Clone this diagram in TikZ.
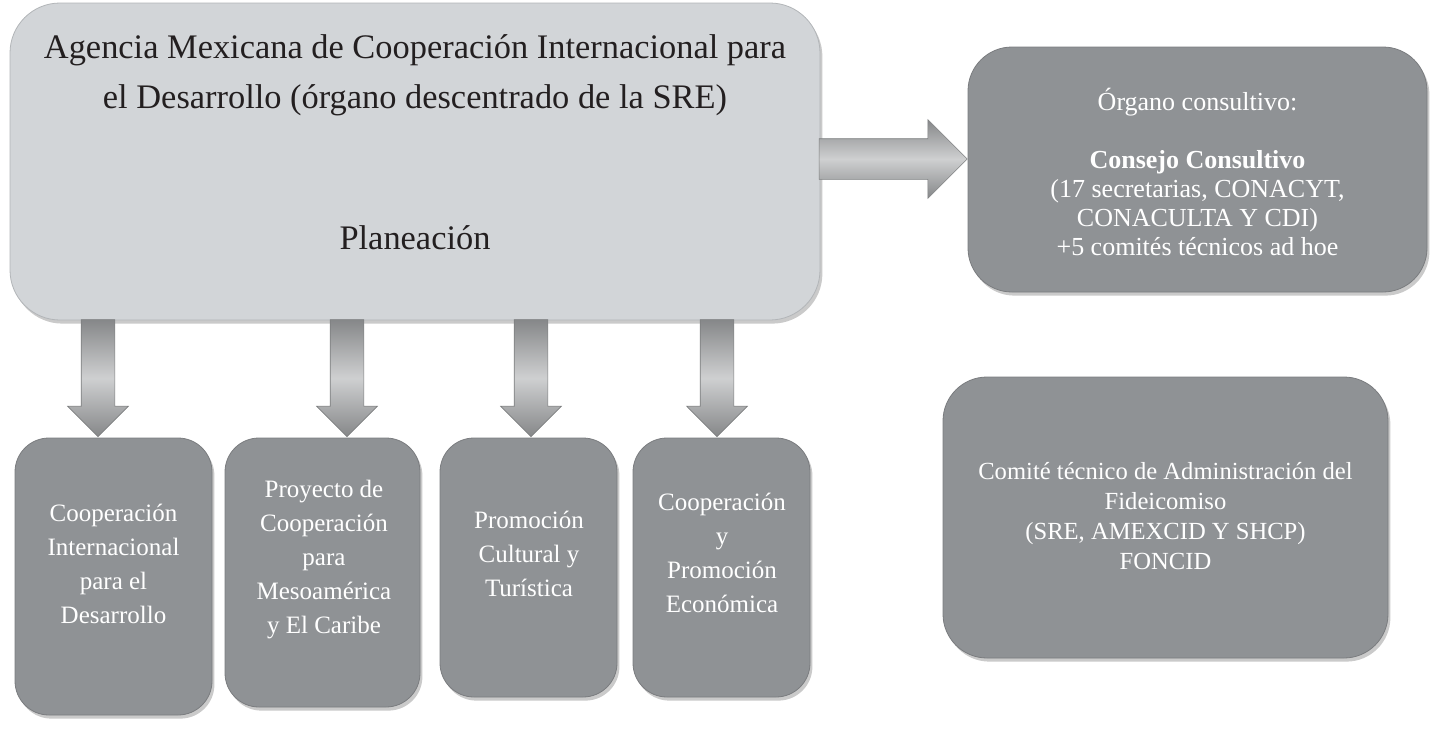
\documentclass[tikz,border=0pt]{standalone}
\usepackage{fontspec}
\setmainfont{Liberation Serif}
\usetikzlibrary{shapes.arrows,shadows}
\definecolor{lightfill}{HTML}{D2D5D8}
\definecolor{darkfill}{HTML}{8F9295}
\definecolor{arrowc}{HTML}{A7A9AB}
\definecolor{txt}{HTML}{231F20}
\tikzset{
  softshadow/.style={drop shadow={shadow xshift=1.2pt, shadow yshift=-1.8pt, opacity=0.35, fill=black!60}},
  mainbox/.style={rounded corners=25pt, fill=lightfill, draw=lightfill!85!black, line width=0.4pt, softshadow, inner sep=0pt},
  sidebox/.style={rounded corners=22pt, fill=darkfill, draw=darkfill!85!black, line width=0.4pt, softshadow, inner sep=0pt},
  unitbox/.style={rounded corners=17pt, fill=darkfill, draw=darkfill!85!black, line width=0.4pt, softshadow, inner sep=0pt},
  whitetext/.style={text=white, align=center, inner sep=0pt},
  blockarrow/.style={single arrow, single arrow tip angle=90, inner xsep=0pt, draw=arrowc!75!black, line width=0.3pt,
    top color=arrowc!80!black, bottom color=arrowc!80!black, middle color=arrowc!55!white},
  downarrow/.style={blockarrow, rotate=-90, minimum height=58.5pt, inner ysep=8.25pt, single arrow head extend=6.75pt, anchor=tip},
}
\begin{document}
\begin{tikzpicture}[x=0.5pt, y=-0.5pt]
\useasboundingbox (0,0) rectangle (1436,729);

% main box
\node[mainbox, minimum width=405pt, minimum height=158.5pt] (main) at (415,161.5) {};
\node[text=txt, align=center, inner sep=0pt, font=\fontsize{17.2}{25}\selectfont] (title) at (415,75)
  {Agencia Mexicana de Cooperación Internacional para\\el Desarrollo (órgano descentrado de la SRE)};
\node[text=txt, inner sep=0pt, font=\fontsize{17.2}{25}\selectfont] (plan) at (415,238) {Planeación};

% right boxes
\node[sidebox, minimum width=229.5pt, minimum height=122.5pt] (consejo) at (1197.5,169.5) {};
\node[whitetext, font=\fontsize{13}{14.5}\selectfont] (consejotxt) at (1197.5,171.5)
  {Órgano consultivo:\\[14.5pt]\textbf{Consejo Consultivo}\\(17 secretarias, CONACYT,\\CONACULTA Y CDI)\\+5 comités técnicos ad hoe};

\node[sidebox, minimum width=222.5pt, minimum height=140.5pt] (comite) at (1165.5,517.5) {};
\node[whitetext, font=\fontsize{12.3}{15}\selectfont] (comitetxt) at (1165.5,516.5)
  {Comité técnico de Administración del\\Fideicomiso\\(SRE, AMEXCID Y SHCP)\\FONCID};

% bottom boxes
\node[unitbox, minimum width=98.5pt, minimum height=138.5pt] (u1) at (113.5,576.5) {};
\node[whitetext, font=\fontsize{12.5}{17}\selectfont] (u1txt) at (113.5,564)
  {Cooperación\\Internacional\\para el\\Desarrollo};
\node[unitbox, minimum width=97.5pt, minimum height=134.5pt] (u2) at (322.5,572.5) {};
\node[whitetext, font=\fontsize{12.5}{17}\selectfont] (u2txt) at (324,559.5)
  {Proyecto de\\Cooperación\\para\\Mesoamérica\\y El Caribe};
\node[unitbox, minimum width=88.5pt, minimum height=129.5pt] (u3) at (528.5,567.5) {};
\node[whitetext, font=\fontsize{12.5}{17}\selectfont] (u3txt) at (529,553.5)
  {Promoción\\Cultural y\\Turística};
\node[unitbox, minimum width=88.5pt, minimum height=129.5pt] (u4) at (721.5,567.5) {};
\node[whitetext, font=\fontsize{12.5}{17}\selectfont] (u4txt) at (722,553)
  {Cooperación\\y\\Promoción\\Económica};

% arrows
\node[blockarrow, minimum height=74pt, inner ysep=10pt, single arrow head extend=9.5pt, anchor=tip] (arrR) at (consejo.west |- 0,159) {};
\node[downarrow] (arr1) at (98,437) {};
\node[downarrow] (arr2) at (347,437) {};
\node[downarrow] (arr3) at (531,437) {};
\node[downarrow] (arr4) at (717,437) {};
\end{tikzpicture}
\end{document}
